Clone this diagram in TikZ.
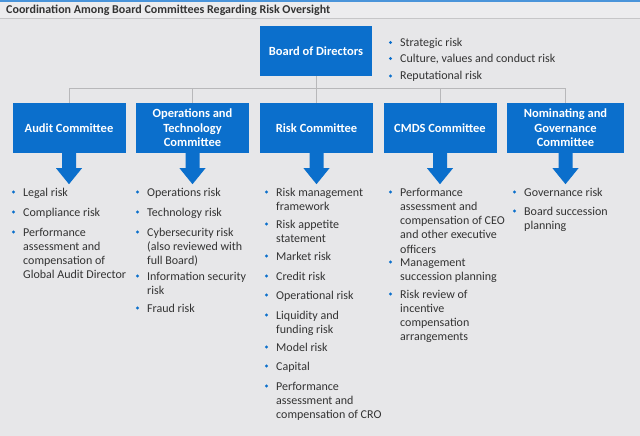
\documentclass[tikz,border=0pt]{standalone}
\usepackage{fontspec}
\setmainfont{Carlito}
\definecolor{bg}{HTML}{E7E7E9}
\definecolor{titlebg}{HTML}{ECECEE}
\definecolor{boxblue}{HTML}{0B6FCC}
\definecolor{topblue}{HTML}{4A94DA}
\definecolor{linegrey}{HTML}{B8B8BA}
\definecolor{txt}{HTML}{333333}
\tikzset{
  board/.style={fill=boxblue, draw=none, text=white, font=\fontsize{12.5}{14.5}\selectfont\bfseries, align=center, minimum width=112pt, minimum height=50pt, inner sep=0pt},
  cbox/.style={fill=boxblue, draw=none, text=white, font=\fontsize{12.5}{14.5}\selectfont\bfseries, align=center, minimum width=113pt, minimum height=50pt, inner sep=0pt},
  conn/.style={draw=linegrey, line width=0.9pt},
  itemtxt/.style={anchor=base west, inner sep=0pt, text=txt, font=\fontsize{12}{14.3}\selectfont},
  dot/.style={circle, fill=boxblue, inner sep=0pt, minimum size=3.4pt},
  downarrow/.style={fill=boxblue, draw=none}
}
\newcommand{\bitem}[5][130pt]{%
  \node[itemtxt] (#2) at (#3,#4) {\parbox[t]{#1}{\raggedright\baselineskip=14.3pt #5}};
  \node[dot] (#2d) at (#3-9.5,#4-4) {};
}
\newcommand{\committeearrow}[1]{%
  \fill[downarrow] ([xshift=-7pt]#1.south) -- ++(0,15) -- ++(-6,0) -- ++(13,16) -- ++(13,-16) -- ++(-6,0) -- ++(0,-15) -- cycle;
}
\begin{document}
\begin{tikzpicture}[x=1pt,y=-1pt]
\useasboundingbox (0,0) rectangle (640,436);
\fill[bg] (0,0) rectangle (640,436);
\fill[titlebg] (0,0) rectangle (640,18);
\draw[draw=linegrey!80, line width=1pt] (0,18.5) -- (640,18.5);
\fill[topblue] (0,0) rectangle (640,1.6);
\node[anchor=base west, inner sep=0pt, text=txt, font=\fontsize{12}{14}\selectfont\bfseries] (title) at (6,14) {Coordination Among Board Committees Regarding Risk Oversight};

% Board
\node[board] (board) at (316,51) {Board of Directors};
\bitem[220pt]{b1}{400}{46.5}{Strategic risk}
\bitem[220pt]{b2}{400}{62.5}{Culture, values and conduct risk}
\bitem[220pt]{b3}{400}{80}{Reputational risk}

% Committees
\node[cbox] (audit) at (69,128) {Audit Committee};
\node[cbox] (ops) at (192.5,128) {Operations and\\Technology\\Committee};
\node[cbox] (risk) at (316.5,128) {Risk Committee};
\node[cbox] (cmds) at (440,128) {CMDS Committee};
\node[cbox, minimum width=117pt] (nom) at (565.5,128) {Nominating and\\Governance\\Committee};

% Connectors
\coordinate (bus) at (316,88);
\draw[conn] (board.south) -- (bus);
\draw[conn] (audit.north |- bus) -- (nom.north |- bus);
\foreach \c in {audit,ops,risk,cmds,nom} {
  \draw[conn] (\c.north) -- (\c.north |- bus);
}
\foreach \c in {audit,ops,risk,cmds,nom} {
  \committeearrow{\c}
}

% Audit
\bitem{a1}{23}{196}{Legal risk}
\bitem{a2}{23}{216}{Compliance risk}
\bitem{a3}{23}{236}{Performance\\assessment and\\compensation of\\Global Audit Director}

% Ops
\bitem{o1}{147}{196}{Operations risk}
\bitem{o2}{147}{216}{Technology risk}
\bitem{o3}{147}{236}{Cybersecurity risk\\(also reviewed with\\full Board)}
\bitem{o4}{147}{280}{Information security\\risk}
\bitem{o5}{147}{312}{Fraud risk}

% Risk
\bitem{r1}{276}{196}{Risk management\\framework}
\bitem{r2}{276}{228}{Risk appetite\\statement}
\bitem{r3}{276}{260}{Market risk}
\bitem{r4}{276}{280}{Credit risk}
\bitem{r5}{276}{299}{Operational risk}
\bitem{r6}{276}{319}{Liquidity and\\funding risk}
\bitem{r7}{276}{351}{Model risk}
\bitem{r8}{276}{370}{Capital}
\bitem{r9}{276}{390}{Performance\\assessment and\\compensation of CRO}

% CMDS
\bitem{c1}{400}{196}{Performance\\assessment and\\compensation of CEO\\and other executive\\officers}
\bitem{c2}{400}{266}{Management\\succession planning}
\bitem{c3}{400}{298}{Risk review of\\incentive\\compensation\\arrangements}

% Nominating
\bitem{n1}{524}{196}{Governance risk}
\bitem{n2}{524}{215}{Board succession\\planning}
\end{tikzpicture}
\end{document}
